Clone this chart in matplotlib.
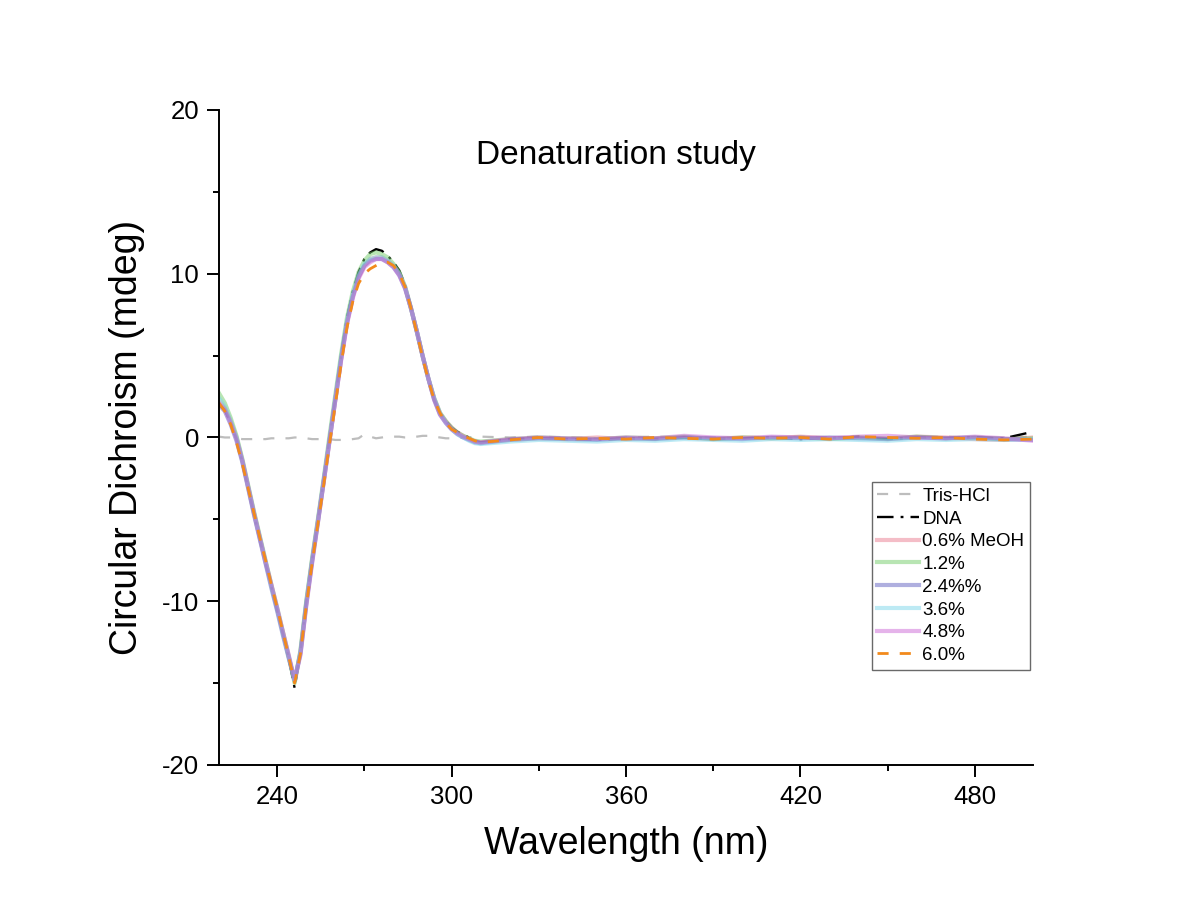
import numpy as np
import matplotlib.pyplot as plt
from matplotlib.ticker import MultipleLocator

plt.rcParams['font.family'] = ['Liberation Sans', 'DejaVu Sans']
plt.rcParams['axes.unicode_minus'] = False

# Bølgelengder (nm)
wl = list(range(220, 312, 2)) + list(range(320, 501, 10))

tris = [0.05, 0.0, 0.0, -0.05, -0.1, -0.1, -0.1, -0.1, -0.1, -0.05, -0.05, -0.05, -0.05, 0.0, 0.0, -0.05,
        -0.1, -0.1, -0.1, -0.1, -0.15, -0.15, -0.15, -0.1, -0.05, 0.2, 0.05, -0.05, 0.0, 0.05, 0.05, 0.05,
        0.0, 0.0, 0.05, 0.1, 0.1, 0.05, 0.0, -0.05, -0.05, -0.05, 0.0, 0.0, 0.05, 0.05,
        0.0, 0.05, 0.0, -0.05, 0.0, 0.05, 0.0, 0.0, -0.05, 0.0, 0.05, 0.0, 0.0, -0.05, 0.0, 0.05, 0.0, 0.0, 0.05]

dna = [2.0, 1.7, 0.9, -0.1, -1.5, -3.1, -4.7, -6.2, -7.7, -9.1, -10.6, -12.0, -13.5, -15.3, -13.0, -10.0,
       -7.5, -5.1, -2.6, 0.0, 2.4, 5.0, 7.3, 8.9, 10.1, 10.9, 11.3, 11.5, 11.4, 11.1, 10.7, 10.2,
       9.3, 8.0, 6.5, 5.0, 3.6, 2.3, 1.5, 1.0, 0.6, 0.35, 0.15, 0.0, -0.2, -0.3,
       -0.1, -0.05, -0.1, -0.15, -0.05, -0.1, 0.0, -0.1, -0.05, 0.0, -0.1, -0.05, 0.05, -0.1, 0.0, -0.05, 0.0, -0.05, 0.35]

meoh_06 = [2.2, 1.8, 1.0, 0.0, -1.4, -3.0, -4.6, -6.1, -7.6, -9.0, -10.5, -11.9, -13.4, -14.9, -13.1, -10.1,
           -7.5, -5.1, -2.7, -0.2, 2.3, 4.8, 7.0, 8.6, 9.8, 10.5, 10.9, 11.0, 11.0, 10.8, 10.5, 10.0,
           9.2, 7.9, 6.5, 5.0, 3.6, 2.4, 1.5, 1.0, 0.6, 0.3, 0.1, -0.1, -0.25, -0.3,
           -0.15, -0.05, -0.1, 0.0, -0.1, -0.05, 0.0, -0.1, 0.0, -0.05, 0.05, -0.05, 0.0, -0.1, 0.05, 0.0, -0.1, -0.15, 0.0]

meoh_12 = [2.7, 2.1, 1.2, 0.1, -1.3, -2.9, -4.5, -6.0, -7.5, -9.0, -10.4, -11.9, -13.4, -15.0, -13.0, -10.0,
           -7.4, -5.0, -2.5, 0.1, 2.6, 5.1, 7.3, 8.9, 10.1, 10.8, 11.2, 11.3, 11.2, 11.0, 10.6, 10.1,
           9.2, 7.9, 6.5, 5.0, 3.6, 2.4, 1.5, 1.0, 0.6, 0.3, 0.1, -0.05, -0.2, -0.25,
           -0.1, 0.0, -0.05, -0.1, 0.0, -0.05, 0.05, -0.1, 0.0, -0.05, 0.0, -0.1, 0.0, -0.05, 0.05, -0.05, 0.0, -0.1, -0.05]

meoh_24 = [2.0, 1.6, 0.8, -0.2, -1.5, -3.1, -4.7, -6.2, -7.7, -9.2, -10.6, -12.1, -13.5, -14.8, -13.2, -10.2,
           -7.6, -5.2, -2.7, -0.2, 2.3, 4.8, 7.0, 8.6, 9.8, 10.5, 10.8, 10.9, 10.9, 10.7, 10.4, 9.9,
           9.1, 7.9, 6.5, 5.0, 3.6, 2.3, 1.4, 0.9, 0.5, 0.2, 0.0, -0.15, -0.3, -0.35,
           -0.15, -0.05, -0.1, -0.15, -0.05, -0.1, 0.0, -0.05, -0.1, 0.0, -0.05, 0.0, -0.05, -0.1, 0.0, -0.05, 0.0, -0.1, -0.15]

meoh_36 = [2.4, 1.9, 1.0, 0.0, -1.4, -3.0, -4.6, -6.1, -7.6, -9.1, -10.5, -12.0, -13.4, -14.9, -13.1, -10.1,
           -7.5, -5.1, -2.6, -0.1, 2.4, 4.9, 7.1, 8.7, 9.9, 10.6, 10.9, 11.0, 11.0, 10.8, 10.5, 10.0,
           9.2, 7.9, 6.5, 5.0, 3.6, 2.4, 1.5, 0.9, 0.5, 0.2, 0.0, -0.2, -0.35, -0.4,
           -0.25, -0.15, -0.2, -0.25, -0.15, -0.2, -0.1, -0.15, -0.2, -0.1, -0.15, -0.1, -0.15, -0.2, -0.1, -0.15, -0.1, -0.15, -0.1]

meoh_48 = [2.1, 1.7, 0.9, -0.1, -1.4, -3.0, -4.6, -6.1, -7.6, -9.0, -10.4, -11.9, -13.3, -14.8, -13.3, -10.3,
           -7.7, -5.2, -2.7, -0.2, 2.3, 4.7, 6.9, 8.5, 9.7, 10.4, 10.7, 10.9, 10.9, 10.7, 10.4, 9.9,
           9.1, 7.9, 6.5, 5.0, 3.6, 2.3, 1.4, 0.9, 0.5, 0.25, 0.05, -0.1, -0.25, -0.3,
           -0.1, 0.0, -0.05, -0.1, 0.0, -0.05, 0.1, 0.0, -0.05, 0.05, 0.0, -0.05, 0.05, 0.1, 0.0, -0.05, 0.05, -0.05, -0.2]

meoh_60 = [2.1, 1.6, 0.8, -0.3, -1.6, -3.1, -4.6, -6.1, -7.5, -9.0, -10.4, -11.9, -13.4, -15.0, -13.2, -10.3,
           -7.7, -5.3, -2.9, -0.4, 2.0, 4.5, 6.7, 8.3, 9.4, 10.0, 10.3, 10.5, 10.7, 10.7, 10.5, 10.0,
           9.2, 7.9, 6.4, 4.9, 3.5, 2.3, 1.5, 0.9, 0.5, 0.3, 0.1, -0.05, -0.2, -0.3,
           -0.15, 0.0, -0.1, -0.05, -0.1, 0.0, -0.05, -0.1, 0.0, -0.05, 0.0, -0.1, 0.05, 0.0, -0.05, 0.0, -0.1, -0.15, -0.1]

fig = plt.figure(figsize=(11.84, 9.08), dpi=100)
ax = fig.add_axes([0.185, 0.1575, 0.6875, 0.7214])

# Buffer og DNA
ax.plot(wl, tris, color='#bdbdbd', lw=1.6, dashes=(5, 5), label='Tris-HCl')
ax.plot(wl, dna, color='black', lw=1.7, dashes=(7, 3, 1.2, 3), label='DNA')

# MeOH-serier, halvgjennomsiktige
ax.plot(wl, meoh_06, color='#eb7d91', alpha=0.5, lw=3, label='0.6% MeOH')
ax.plot(wl, meoh_12, color='#73cd69', alpha=0.5, lw=3, label='1.2%')
ax.plot(wl, meoh_24, color='#6161c1', alpha=0.5, lw=3, label='2.4%%')
ax.plot(wl, meoh_36, color='#7dd7eb', alpha=0.5, lw=3, label='3.6%')
ax.plot(wl, meoh_48, color='#cd69d7', alpha=0.5, lw=3, label='4.8%')
ax.plot(wl, meoh_60, color='#f28a1c', lw=2, dashes=(4, 4), label='6.0%')

ax.set_xlim(220, 500)
ax.set_ylim(-20, 20)
ax.set_xticks([240, 300, 360, 420, 480])
ax.xaxis.set_minor_locator(MultipleLocator(30))
ax.yaxis.set_major_locator(MultipleLocator(10))
ax.yaxis.set_minor_locator(MultipleLocator(5))

for s in ['top', 'right']:
    ax.spines[s].set_visible(False)
for s in ['left', 'bottom']:
    ax.spines[s].set_linewidth(1.4)

ax.tick_params(which='major', length=8.5, width=1.4, labelsize=18.5, pad=6)
ax.tick_params(which='minor', length=4.3, width=1.4)

ax.set_xlabel('Wavelength (nm)', fontsize=27, labelpad=12)
ax.set_ylabel('Circular Dichroism (mdeg)', fontsize=27, labelpad=12)
ax.text(0.487, 0.931, 'Denaturation study', transform=ax.transAxes,
        ha='center', va='center', fontsize=24)

leg = ax.legend(loc='upper left', bbox_to_anchor=(0.802, 0.432), borderaxespad=0,
                fontsize=13.5, frameon=True, fancybox=False, handlelength=2.2,
                handletextpad=0.2, borderpad=0.3, labelspacing=0.3)
leg.get_frame().set_edgecolor('#444444')
leg.get_frame().set_linewidth(1.0)

plt.savefig('out.png', dpi=100)
